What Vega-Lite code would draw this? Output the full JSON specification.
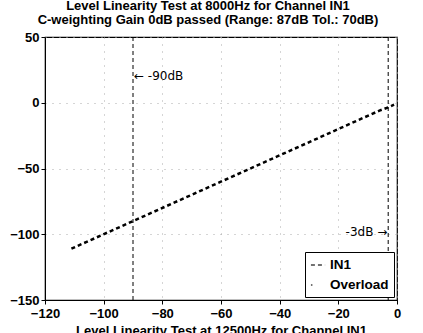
{
  "$schema": "https://vega.github.io/schema/vega-lite/v6.json",
  "width": 352,
  "height": 263,
  "autosize": "none",
  "padding": {"left": 45, "top": 37, "right": 26, "bottom": 33},
  "background": "white",
  "title": {
    "text": "Level Linearity Test at 8000Hz for Channel IN1",
    "subtitle": "C-weighting Gain 0dB passed (Range: 87dB Tol.: 70dB)",
    "font": "Liberation Sans",
    "subtitleFont": "Liberation Sans",
    "fontSize": 13,
    "subtitleFontSize": 13,
    "fontWeight": "bold",
    "subtitleFontWeight": "bold",
    "color": "black",
    "subtitleColor": "black",
    "anchor": "middle",
    "dx": -13,
    "offset": 4,
    "subtitlePadding": 1
  },
  "config": {
    "view": {"stroke": "black", "strokeWidth": 1.2},
    "axis": {
      "labelFont": "Liberation Sans",
      "labelFontSize": 13,
      "labelFontWeight": "bold",
      "labelColor": "black",
      "domainColor": "black",
      "tickColor": "black",
      "grid": true,
      "gridColor": "#aaa",
      "gridDash": [1, 6],
      "gridWidth": 1,
      "tickSize": 4,
      "titleFont": "Liberation Sans",
      "titleFontSize": 13,
      "titleFontWeight": "bold",
      "titleColor": "black"
    },
    "legend": {
      "orient": "bottom-right",
      "offset": 3,
      "fillColor": "white",
      "strokeColor": "black",
      "padding": 5,
      "labelFont": "Liberation Sans",
      "labelFontSize": 13.5,
      "labelFontWeight": "bold",
      "labelColor": "black",
      "symbolType": "stroke",
      "symbolStrokeColor": "#444",
      "symbolStrokeWidth": 1.5,
      "symbolSize": 200,
      "rowPadding": 5,
      "title": null
    }
  },
  "datasets": {
    "series": [
      {"level": -111, "measured": -111, "series": "IN1"},
      {"level": -106, "measured": -106, "series": "IN1"},
      {"level": -101, "measured": -101, "series": "IN1"},
      {"level": -96, "measured": -96, "series": "IN1"},
      {"level": -91, "measured": -91, "series": "IN1"},
      {"level": -86, "measured": -86, "series": "IN1"},
      {"level": -81, "measured": -81, "series": "IN1"},
      {"level": -76, "measured": -76, "series": "IN1"},
      {"level": -71, "measured": -71, "series": "IN1"},
      {"level": -66, "measured": -66, "series": "IN1"},
      {"level": -61, "measured": -61, "series": "IN1"},
      {"level": -56, "measured": -56, "series": "IN1"},
      {"level": -51, "measured": -51, "series": "IN1"},
      {"level": -46, "measured": -46, "series": "IN1"},
      {"level": -41, "measured": -41, "series": "IN1"},
      {"level": -36, "measured": -36, "series": "IN1"},
      {"level": -31, "measured": -31, "series": "IN1"},
      {"level": -26, "measured": -26, "series": "IN1"},
      {"level": -21, "measured": -21, "series": "IN1"},
      {"level": -16, "measured": -16, "series": "IN1"},
      {"level": -11, "measured": -11, "series": "IN1"},
      {"level": -6, "measured": -6, "series": "IN1"},
      {"level": -3, "measured": -3.5, "series": "IN1"},
      {"level": -1, "measured": -1.5, "series": "IN1"}
    ],
    "marks": [
      {"level": -90},
      {"level": -3}
    ],
    "notes": [
      {"level": -90, "measured": 20, "label": "← -90dB", "side": "left"},
      {"level": -4, "measured": -98, "label": "-3dB →", "side": "right"}
    ]
  },
  "layer": [
    {
      "data": {"name": "marks"},
      "mark": {"type": "rule", "color": "black", "strokeDash": [4, 3], "strokeWidth": 1},
      "encoding": {
        "x": {"field": "level", "type": "quantitative"}
      }
    },
    {
      "data": {"name": "series"},
      "mark": {"type": "line", "color": "black", "strokeWidth": 2.5},
      "encoding": {
        "x": {
          "field": "level", "type": "quantitative",
          "scale": {"domain": [-120, 0], "nice": false},
          "axis": {"values": [-120, -100, -80, -60, -40, -20, 0], "title": "Level Linearity Test at 12500Hz for Channel IN1", "titlePadding": 4, "labelPadding": 3, "labelFlush": false}
        },
        "y": {
          "field": "measured", "type": "quantitative",
          "scale": {"domain": [-150, 50], "nice": false},
          "axis": {"values": [-150, -100, -50, 0, 50], "title": null, "labelPadding": 2}
        },
        "strokeDash": {
          "field": "series", "type": "nominal",
          "scale": {"domain": ["IN1", "Overload"], "range": [[4, 3], [1.5, 20]]}
        }
      }
    },
    {
      "data": {"name": "notes"},
      "transform": [{"filter": "datum.side === 'left'"}],
      "mark": {"type": "text", "align": "left", "baseline": "middle", "dx": 1, "font": "DejaVu Sans", "fontSize": 12, "color": "black"},
      "encoding": {
        "x": {"field": "level", "type": "quantitative"},
        "y": {"field": "measured", "type": "quantitative"},
        "text": {"field": "label"}
      }
    },
    {
      "data": {"name": "notes"},
      "transform": [{"filter": "datum.side === 'right'"}],
      "mark": {"type": "text", "align": "right", "baseline": "middle", "dx": 2, "font": "DejaVu Sans", "fontSize": 12, "color": "black"},
      "encoding": {
        "x": {"field": "level", "type": "quantitative"},
        "y": {"field": "measured", "type": "quantitative"},
        "text": {"field": "label"}
      }
    }
  ]
}
